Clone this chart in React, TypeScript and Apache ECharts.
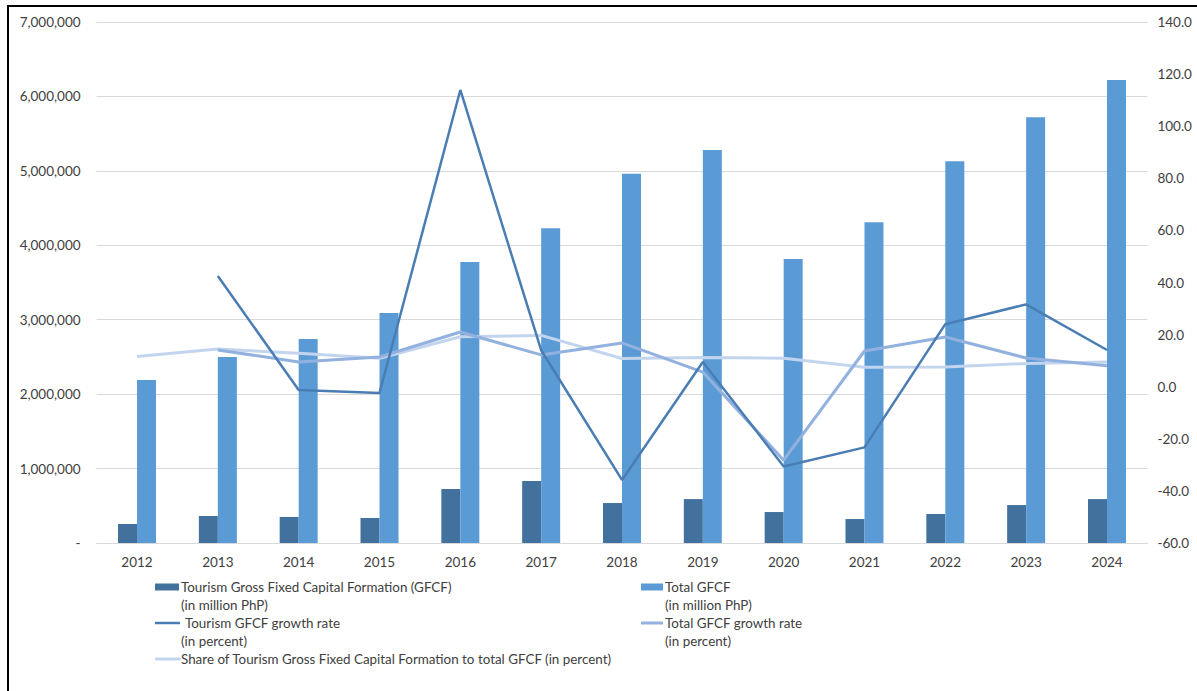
import React, { useEffect, useRef } from "react";
import * as echarts from "echarts";

const years = ["2012","2013","2014","2015","2016","2017","2018","2019","2020","2021","2022","2023","2024"];
const tourismGFCF = [255000, 363000, 350000, 336000, 726000, 833000, 537000, 590000, 416000, 322000, 390000, 510000, 590000];
const totalGFCF = [2190000, 2500000, 2740000, 3090000, 3775000, 4230000, 4960000, 5280000, 3815000, 4310000, 5130000, 5720000, 6220000];
const tourismGrowth = [null, 42.5, -1.3, -2.4, 113.9, 14.0, -35.8, 9.5, -30.6, -23.3, 24.0, 31.6, 14.1];
const totalGrowth = [null, 14.1, 9.5, 11.4, 21.0, 12.2, 16.8, 5.6, -28.2, 13.7, 19.1, 11.0, 8.0];
const tourismShare = [11.6, 14.5, 12.8, 10.9, 19.2, 19.7, 10.8, 11.2, 10.9, 7.5, 7.6, 8.9, 9.5];

const C_TOUR = "#41719c";
const C_TOTAL = "#5b9bd5";
const C_TGROW = "#4a7db3";
const C_TOTGROW = "#93b1df";
const C_SHARE = "#c3d5ee";
const FONT = "Lato";
const TXT = "#404040";

export default function App() {
  const ref = useRef<HTMLDivElement>(null);
  useEffect(() => {
    const chart = echarts.init(ref.current!, null, { renderer: "svg" });
    const legText = (x: number, y: number, text: string) => ({
      type: "text",
      x,
      y,
      style: { text, fill: TXT, font: `13.4px ${FONT}`, textVerticalAlign: "middle" },
    });
    chart.setOption({
      animation: false,
      backgroundColor: "#ffffff",
      grid: { left: 96.6, right: 49.6, top: 22, bottom: 148, containLabel: false },
      xAxis: {
        type: "category",
        data: years,
        axisLine: { lineStyle: { color: "#d9d9d9" } },
        axisTick: { show: false },
        axisLabel: { color: TXT, fontFamily: FONT, fontSize: 13.5, margin: 12 },
      },
      yAxis: [
        {
          type: "value",
          min: 0,
          max: 7000000,
          interval: 1000000,
          axisLine: { show: false },
          axisTick: { show: false },
          splitLine: { lineStyle: { color: "#d9d9d9" } },
          axisLabel: {
            color: TXT,
            fontFamily: FONT,
            fontSize: 13.5,
            margin: 16,
            formatter: (v: number) => (v === 0 ? "-" : v.toLocaleString("en-US")),
          },
        },
        {
          type: "value",
          min: -60,
          max: 140,
          interval: 20,
          axisLine: { show: false },
          axisTick: { show: false },
          splitLine: { show: false },
          axisLabel: {
            color: TXT,
            fontFamily: FONT,
            fontSize: 13.5,
            margin: 10,
            formatter: (v: number) => v.toFixed(1),
          },
        },
      ],
      series: [
        {
          name: "Tourism Gross Fixed Capital Formation (GFCF) (in million PhP)",
          type: "bar",
          data: tourismGFCF,
          barWidth: 19,
          barGap: "0%",
          itemStyle: { color: C_TOUR },
        },
        {
          name: "Total GFCF (in million PhP)",
          type: "bar",
          data: totalGFCF,
          barWidth: 19,
          barGap: "0%",
          itemStyle: { color: C_TOTAL },
        },
        {
          name: "Share of Tourism Gross Fixed Capital Formation to total GFCF (in percent)",
          type: "line",
          yAxisIndex: 1,
          data: tourismShare,
          symbol: "none",
          lineStyle: { color: C_SHARE, width: 3 },
          z: 3,
        },
        {
          name: "Total GFCF growth rate (in percent)",
          type: "line",
          yAxisIndex: 1,
          data: totalGrowth,
          symbol: "none",
          lineStyle: { color: C_TOTGROW, width: 3 },
          z: 4,
        },
        {
          name: "Tourism GFCF growth rate (in percent)",
          type: "line",
          yAxisIndex: 1,
          data: tourismGrowth,
          symbol: "none",
          lineStyle: { color: C_TGROW, width: 2.5 },
          z: 5,
        },
      ],
      graphic: [
        {
          type: "rect",
          shape: { x: 8, y: 6, width: 1200, height: 700 },
          style: { fill: "none", stroke: "#000000", lineWidth: 2 },
          silent: true,
        },
        { type: "rect", shape: { x: 155, y: 583.5, width: 24, height: 7 }, style: { fill: C_TOUR } },
        legText(181, 587, "Tourism Gross Fixed Capital Formation (GFCF)"),
        legText(181, 605, "(in million PhP)"),
        { type: "rect", shape: { x: 641, y: 583.5, width: 22, height: 7 }, style: { fill: C_TOTAL } },
        legText(665, 587, "Total GFCF"),
        legText(665, 605, "(in million PhP)"),
        { type: "line", shape: { x1: 155, y1: 623, x2: 180, y2: 623 }, style: { stroke: C_TGROW, lineWidth: 2.5 } },
        legText(185, 623, "Tourism GFCF growth rate"),
        legText(181, 641, "(in percent)"),
        { type: "line", shape: { x1: 641, y1: 623, x2: 663, y2: 623 }, style: { stroke: C_TOTGROW, lineWidth: 3 } },
        legText(665, 623, "Total GFCF growth rate"),
        legText(665, 641, "(in percent)"),
        { type: "line", shape: { x1: 155, y1: 659, x2: 181, y2: 659 }, style: { stroke: C_SHARE, lineWidth: 3 } },
        legText(181, 659, "Share of Tourism Gross Fixed Capital Formation to total GFCF (in percent)"),
      ],
    });
    return () => chart.dispose();
  }, []);
  return (
    <div
      ref={ref}
      style={{ position: "fixed", left: 0, top: 0, width: 1197, height: 691, background: "#fff" }}
    />
  );
}
